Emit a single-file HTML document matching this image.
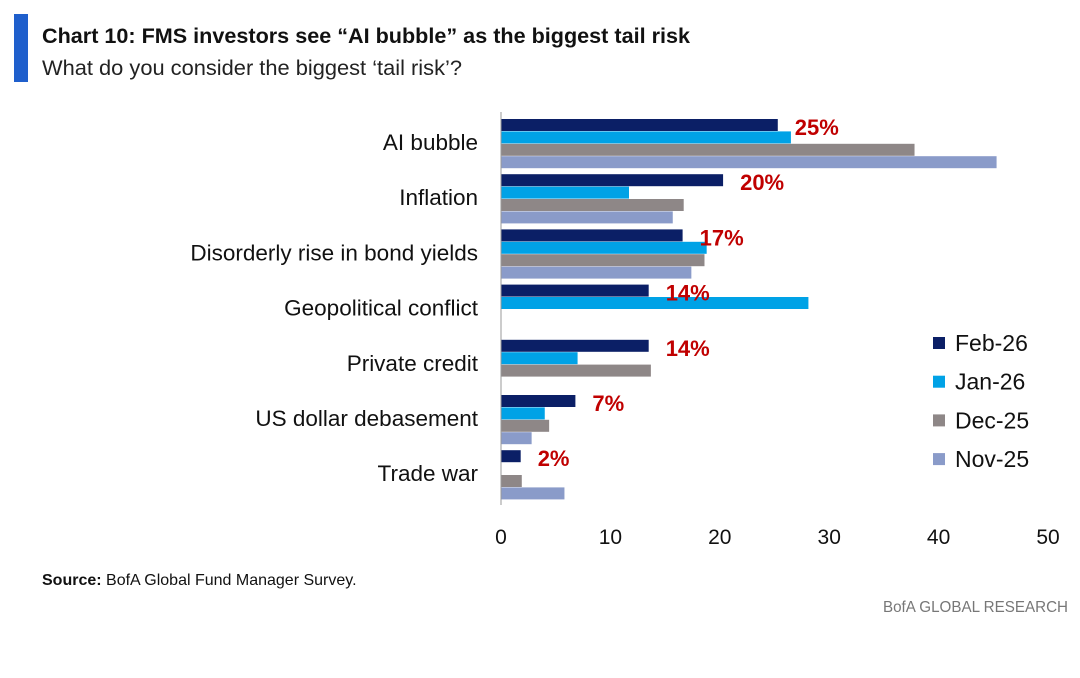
<!DOCTYPE html>
<html><head><meta charset="utf-8"><style>
body{margin:0;background:#fff;width:1080px;height:673px;overflow:hidden;font-family:"Liberation Sans",sans-serif}
svg text{font-family:"Liberation Sans",sans-serif}
</style></head><body>
<svg id="c" width="1080" height="673" xmlns="http://www.w3.org/2000/svg">
<rect x="14" y="14" width="14" height="68" fill="#1f5fcc"/>
<text x="42" y="43" font-size="21.5" font-weight="bold" fill="#111" textLength="648" lengthAdjust="spacingAndGlyphs">Chart 10: FMS investors see “AI bubble” as the biggest tail risk</text>
<text x="42" y="75" font-size="21.5" fill="#222" textLength="420" lengthAdjust="spacingAndGlyphs">What do you consider the biggest ‘tail risk’?</text>
<g id="plot"></g>
<text x="42" y="585" font-size="16" fill="#111"><tspan font-weight="bold">Source:</tspan> BofA Global Fund Manager Survey.</text>
<text x="1068" y="612" font-size="16" fill="#777" text-anchor="end" textLength="185" lengthAdjust="spacingAndGlyphs">BofA GLOBAL RESEARCH</text>
</svg>
<script>
const categories=["AI bubble","Inflation","Disorderly rise in bond yields","Geopolitical conflict","Private credit","US dollar debasement","Trade war"];
const seriesNames=["Feb-26","Jan-26","Dec-25","Nov-25"];
const feb26=[25.3,20.3,16.6,13.5,13.5,6.8,1.8];
const jan26=[26.5,11.7,18.8,28.1,7,4,null];
const dec25=[37.8,16.7,18.6,null,13.7,4.4,1.9];
const nov25=[45.3,15.7,17.4,null,null,2.8,5.8];
const labels=["25%","20%","17%","14%","14%","7%","2%"];
const ticks=[0,10,20,30,40,50];
const colors=["#0b1f66","#00a2e6","#8e8787","#8a9bc9"];
const series=[feb26,jan26,dec25,nov25];
const NS="http://www.w3.org/2000/svg";
const g=document.getElementById('plot');
const x0=501,x1=1048,xmax=50;
const X=v=>x0+(x1-x0)*v/xmax;
const gTop=119,pitch=55.2,barH=12,barStep=12.4;
function el(t,a){const e=document.createElementNS(NS,t);for(const k in a)e.setAttribute(k,a[k]);g.appendChild(e);return e;}
categories.forEach((c,i)=>{
  const y=gTop+i*pitch;
  series.forEach((s,j)=>{
    if(s[i]==null)return;
    const r=el('rect',{x:x0,y:y+j*barStep,width:X(s[i])-x0,height:barH,fill:colors[j]});
    
    
  });
  const t=el('text',{x:478,y:y+31,'font-size':22.5,fill:'#111','text-anchor':'end'});
  t.textContent=c;
  
  
  const v=el('text',{x:X(feb26[i])+17,y:y+16,'font-size':22,'font-weight':'bold',fill:'#c00000'});
  v.textContent=labels[i];
  
  
});
const ax=el('line',{x1:x0,y1:112,x2:x0,y2:505,stroke:'#999','stroke-width':1});


ticks.forEach(t=>{
  const e=el('text',{x:X(t),y:544,'font-size':21,fill:'#111','text-anchor':'middle'});
  e.textContent=t;
  
  
});
seriesNames.forEach((n,j)=>{
  const y=343+j*38.7;
  const r=el('rect',{x:933,y:y-6,width:12,height:12,fill:colors[j]});
  
  
  const t=el('text',{x:955,y:y+8,'font-size':23,fill:'#111'});
  t.textContent=n;
  
  
});
</script>
</body></html>
